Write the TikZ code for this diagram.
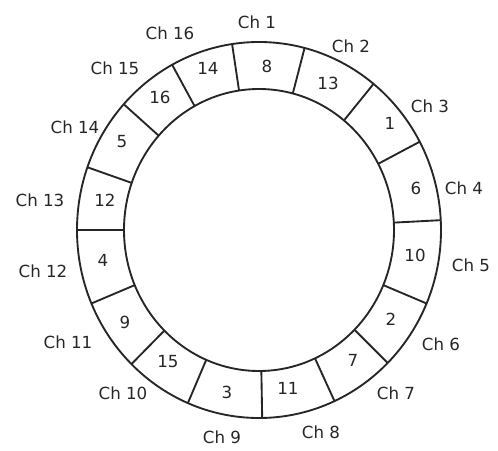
\documentclass[tikz,border=0pt]{standalone}
\usepackage{fontspec}
\setmainfont{DejaVu Sans}

\tikzset{
  ring/.style={draw=black!85,line width=1.4pt},
  chlabel/.style={font=\fontsize{12.5}{14}\selectfont,text=black!85,inner sep=0pt},
  slotnum/.style={font=\fontsize{12.5}{14}\selectfont,text=black!85,inner sep=0pt}
}

\begin{document}
\begin{tikzpicture}[x=0.75pt,y=0.75pt]
\useasboundingbox (-259,-220) rectangle (239,230);
\draw[ring] (0,0) ellipse (182 and 188);
\draw[ring] (0,0) ellipse (135 and 141);
\foreach \a in {3,28,51,75.5,98.5,118.5,138,160.5,180,203,225.5,247,271,294.5,315,337}
  \draw[ring] (\a:135 and 141) -- (\a:182 and 188);

% slot numbers
\node[slotnum] (s8) at (8,164) {8};
\node[slotnum] (s13) at (69,147) {13};
\node[slotnum] (s1) at (131,107) {1};
\node[slotnum] (s6) at (157,42) {6};
\node[slotnum] (s10) at (156,-25) {10};
\node[slotnum] (s2) at (132,-89) {2};
\node[slotnum] (s7) at (94,-130) {7};
\node[slotnum] (s11) at (29,-158) {11};
\node[slotnum] (s3) at (-32,-162) {3};
\node[slotnum] (s15) at (-91,-132) {15};
\node[slotnum] (s9) at (-134,-92) {9};
\node[slotnum] (s4) at (-156,-30) {4};
\node[slotnum] (s12) at (-154,30) {12};
\node[slotnum] (s5) at (-137,88) {5};
\node[slotnum] (s16) at (-99,133) {16};
\node[slotnum] (s14) at (-51,162) {14};

% channel labels
\node[chlabel] (ch1) at (-2,208) {Ch 1};
\node[chlabel] (ch2) at (92,184) {Ch 2};
\node[chlabel] (ch3) at (171,124) {Ch 3};
\node[chlabel] (ch4) at (205,42) {Ch 4};
\node[chlabel] (ch5) at (212,-35) {Ch 5};
\node[chlabel] (ch6) at (182,-114) {Ch 6};
\node[chlabel] (ch7) at (137,-163) {Ch 7};
\node[chlabel] (ch8) at (62,-202) {Ch 8};
\node[chlabel] (ch9) at (-37,-207) {Ch 9};
\node[chlabel] (ch10) at (-136,-163) {Ch 10};
\node[chlabel] (ch11) at (-191,-112) {Ch 11};
\node[chlabel] (ch12) at (-216,-41) {Ch 12};
\node[chlabel] (ch13) at (-219,30) {Ch 13};
\node[chlabel] (ch14) at (-184,103) {Ch 14};
\node[chlabel] (ch15) at (-144,162) {Ch 15};
\node[chlabel] (ch16) at (-89,197) {Ch 16};
\end{tikzpicture}
\end{document}
